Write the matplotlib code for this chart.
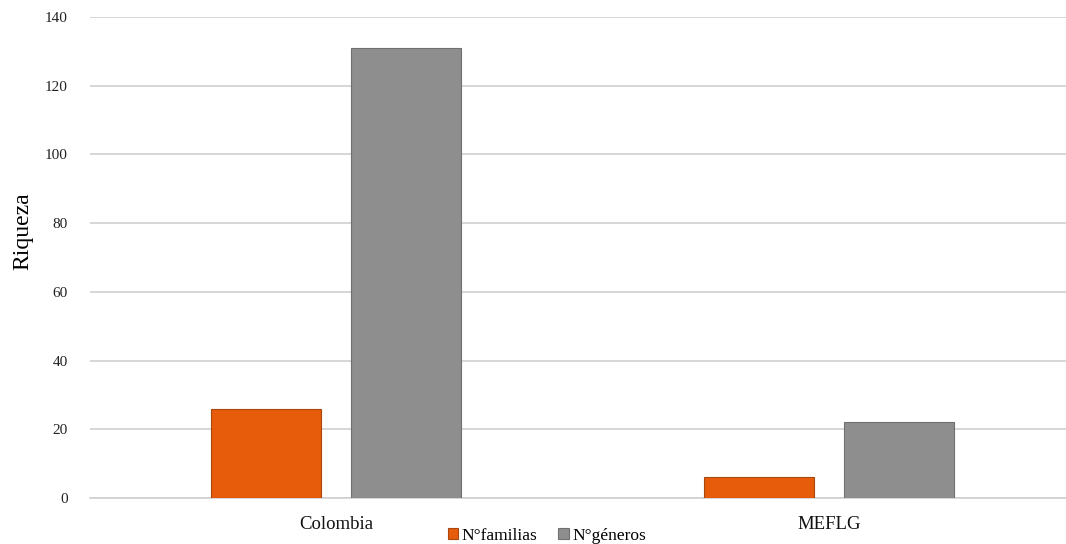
import matplotlib.pyplot as plt
import numpy as np

plt.rcParams['font.family'] = ['Liberation Serif', 'DejaVu Serif']

categorias = ['Colombia', 'MEFLG']
familias = [26, 6]
generos = [131, 22]
yticks = [0, 20, 40, 60, 80, 100, 120, 140]

fig = plt.figure(figsize=(10.66, 5.44), dpi=100)
ax = fig.add_axes([0.0844, 0.0846, 0.9156, 0.8842])

x = np.arange(len(categorias))
w = 0.223
ax.bar(x - 0.142, familias, w, color='#E65C0A', edgecolor='#A8480F', linewidth=0.8,
       label='N°familias', zorder=3)
ax.bar(x + 0.142, generos, w, color='#8E8E8E', edgecolor='#707070', linewidth=0.8,
       label='N°géneros', zorder=3)

ax.set_xlim(-0.5, 1.48)
ax.set_ylim(0, 140)
ax.set_yticks(yticks)
ax.set_yticklabels([str(t) for t in yticks], fontsize=11, color='#222222')
ax.set_xticks(x)
ax.set_xticklabels(categorias, fontsize=13.5, color='#111111')
ax.tick_params(axis='both', length=0)
ax.tick_params(axis='y', pad=16)
ax.tick_params(axis='x', pad=13)
ax.grid(axis='y', color='#D0D0D0', linewidth=1.2, zorder=0)
for s in ['top', 'right', 'left']:
    ax.spines[s].set_visible(False)
ax.spines['bottom'].set_color('#D0D0D0')
ax.spines['bottom'].set_linewidth(1.2)

ax.set_ylabel('Riqueza', fontsize=17)
ax.yaxis.set_label_coords(-0.058, 0.555)

fig.legend(loc='lower center', bbox_to_anchor=(0.513, -0.028), ncol=2, frameon=False,
           fontsize=12.5, handlelength=0.6, handleheight=0.6, handletextpad=0.2,
           columnspacing=1.2)

fig.savefig('out.png', dpi=100)
